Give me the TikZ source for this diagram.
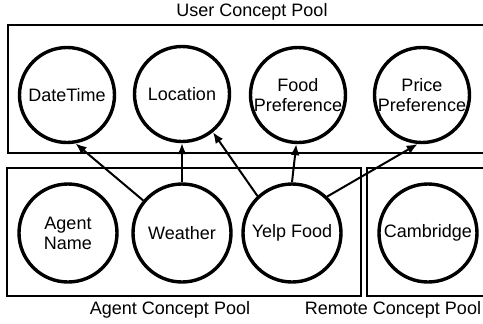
\documentclass[tikz,border=0pt]{standalone}
\usepackage{fontspec}
\setmainfont{Liberation Sans}
\usetikzlibrary{arrows.meta}
\begin{document}
\begin{tikzpicture}[x=0.5pt,y=-0.5pt,
  font=\fontsize{9}{10}\selectfont,
  concept/.style={circle,draw,line width=1.7pt,inner sep=0pt,
    minimum size=#1,align=center},
  concept/.default=47.5pt,
  pool/.style={draw,line width=1.2pt},
  link/.style={-{Latex[length=5.5pt,width=4.5pt]},line width=1pt}]
\useasboundingbox (0,0) rectangle (483,323);
% pools
\draw[pool] (8,25) rectangle (490,153);
\draw[pool] (7,168) rectangle (361,296);
\draw[pool] (367,168) rectangle (490,296);
\node (userpool) at (252,12) {User Concept Pool};
\node (agentpool) at (170,310) {Agent Concept Pool};
\node (remotepool) at (393,310) {Remote Concept Pool};
% user concepts
\node[concept] (datetime) at (67,95) {DateTime};
\node[concept] (location) at (182,94) {Location};
\node[concept] (foodpref) at (298,95) {Food\\Preference};
\node[concept] (pricepref) at (422,95) {Price\\Preference};
% agent and remote concepts
\node[concept=49pt] (agentname) at (68,233) {Agent\\Name};
\node[concept=49pt] (weather) at (182,233) {Weather};
\node[concept=49pt] (yelpfood) at (292,233) {Yelp Food};
\node[concept=49pt] (cambridge) at (428,233) {Cambridge};
% links
\draw[link] (weather.140) -- (datetime.-80);
\draw[link] (weather.north) -- (location.south);
\draw[link] (yelpfood.133) -- (location.-51);
\draw[link] (yelpfood.north) -- (foodpref.-92);
\draw[link] (yelpfood.46) -- (pricepref.-95);
\end{tikzpicture}
\end{document}
